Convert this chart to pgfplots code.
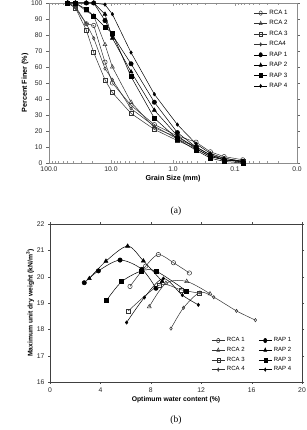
\documentclass[border=0pt]{standalone}
\usepackage{pgfplots}
\pgfplotsset{compat=1.18}
\usepackage{pgfplotstable}
\usepackage{fontspec}
\setmainfont{Liberation Sans}
\newfontfamily\seriffont{Liberation Serif}

\pgfplotstableread{
d     rcaa rcab rcac rcad rapa rapb rapc rapd
50    100  100  100  100  100  100  100  100
37.5  98   100  97   97   100  100  100  100
25    87   95   83   87   100  100  96   100
19    86   92   69   78   100  100  92   100
12.5  63   74   52   59   89   93   85   99
9.5   50   60   44   52   80   78   81   93
4.75  36   38   31   34   62   57   54   69
2.0   24   22   21   23   38   33   28   43
0.85  17   16   14   15   19   17   15   24
0.425 13   10   9    10   10   9    8    12
0.25  7    5    4    5    5    4    3    6
0.15  4    2    2    3    2    2    1    3
0.075 2    1    1    1    1    0.5  0    1
}\grading

\pgfplotstableread{
w     g
6.35  19.63
7.59  20.40
8.60  20.84
9.80  20.53
11.06 20.14
}\rcaA
\pgfplotstableread{
w     g
7.88  18.86
9.20  19.75
10.85 19.82
12.70 19.35
}\rcaB
\pgfplotstableread{
w     g
6.22  18.70
8.70  19.68
10.40 19.50
11.85 19.37
}\rcaC
\pgfplotstableread{
w     g
9.60  18.03
10.60 18.82
11.90 19.40
13.00 19.22
14.80 18.70
16.30 18.35
}\rcaD
\pgfplotstableread{
w     g
2.72  19.77
3.84  20.22
5.56  20.63
7.30  20.28
8.41  19.56
}\rapA
\pgfplotstableread{
w     g
3.12  19.93
4.44  20.59
6.16  21.16
7.41  20.60
8.90  19.82
}\rapB
\pgfplotstableread{
w     g
4.50  19.11
5.69  19.81
7.27  20.22
8.46  20.20
10.85 19.45
}\rapC
\pgfplotstableread{
w     g
6.08  18.26
7.49  19.21
9.00  19.93
10.50 19.30
11.77 18.93
}\rapD

\pgfplotsset{
  sRCAa/.style={black!80, line width=0.5pt, mark=o, mark size=2.2pt, mark options={fill=white, solid}},
  sRCAb/.style={black!80, line width=0.5pt, mark=triangle, mark size=2.3pt, mark options={fill=white, solid}},
  sRCAc/.style={black!80, line width=0.5pt, mark=square, mark size=2pt, mark options={fill=white, solid}},
  sRCAd/.style={black!80, line width=0.5pt, mark=diamond, mark size=1.7pt, mark options={fill=white, solid}},
  sRAPa/.style={black, line width=0.5pt, mark=*, mark size=2.2pt, mark options={fill=black, solid}},
  sRAPb/.style={black, line width=0.5pt, mark=triangle*, mark size=2.3pt, mark options={fill=black, solid}},
  sRAPc/.style={black, line width=0.5pt, mark=square*, mark size=2pt, mark options={fill=black, solid}},
  sRAPd/.style={black, line width=0.5pt, mark=diamond*, mark size=1.7pt, mark options={fill=black, solid}},
}

\begin{document}
\begin{tikzpicture}
\useasboundingbox (0pt,0pt) rectangle (307pt,430pt);
% ---------- (a) ----------
\begin{axis}[
  at={(49pt,267pt)}, anchor=south west,
  scale only axis, width=248pt, height=160pt,
  xmode=log, x dir=reverse,
  xmin=0.01, xmax=100, ymin=0, ymax=100,
  xtick={100,10,1,0.1,0.01},
  xticklabels={100.0,10.0,1.0,0.1,0.0},
  minor xtick={0.02,0.03,0.04,0.05,0.06,0.07,0.08,0.09,
               0.2,0.3,0.4,0.5,0.6,0.7,0.8,0.9,
               2,3,4,5,6,7,8,9,20,30,40,50,60,70,80,90},
  ytick={0,10,...,100},
  axis line style={black!45, line width=0.5pt},
  x tick style={black!40, line width=0.4pt},
  xtick align=inside,
  major tick length=3pt, minor tick length=2pt,
  ytick align=outside,
  y tick style={black!60},
  tick label style={font=\fontsize{6.8}{7}\selectfont, black!85},
  /pgf/number format/assume math mode=true,
  xlabel={\bfseries Grain Size (mm)},
  ylabel={\bfseries Percent Finer (\%)},
  label style={font=\fontsize{7.2}{8}\selectfont},
  xlabel style={yshift=3pt},
  ylabel style={yshift=-4pt},
  legend style={at={(0.975,0.975)}, anchor=north east, draw=none, fill=none,
    font=\fontsize{6.2}{6.6}\selectfont, row sep=0.6pt, inner sep=1pt},
  legend cell align=left,
  legend image post style={xscale=0.75},
  clip=false,
]
\addplot[sRCAa] table[x=d, y=rcaa] {\grading}; \addlegendentry{RCA 1}
\addplot[sRCAb] table[x=d, y=rcab] {\grading}; \addlegendentry{RCA 2}
\addplot[sRCAc] table[x=d, y=rcac] {\grading}; \addlegendentry{RCA 3}
\addplot[sRCAd] table[x=d, y=rcad] {\grading}; \addlegendentry{RCA4}
\addplot[sRAPa] table[x=d, y=rapa] {\grading}; \addlegendentry{RAP 1}
\addplot[sRAPb] table[x=d, y=rapb] {\grading}; \addlegendentry{RAP 2}
\addplot[sRAPc] table[x=d, y=rapc] {\grading}; \addlegendentry{RAP 3}
\addplot[sRAPd] table[x=d, y=rapd] {\grading}; \addlegendentry{RAP 4}
\end{axis}
\node[font=\seriffont\fontsize{9.5}{10}\selectfont] at (176pt,219pt) {(a)};
% ---------- (b) ----------
\begin{axis}[
  at={(50pt,48pt)}, anchor=south west,
  scale only axis, width=252pt, height=158pt,
  xmin=0, xmax=20, ymin=16, ymax=22,
  xtick={0,4,...,20}, ytick={16,...,22},
  axis line style={black!75, line width=0.6pt},
  tick style={black!70}, tick align=outside,
  major tick length=2pt,
  tick label style={font=\fontsize{6.8}{7}\selectfont, black!85},
  /pgf/number format/assume math mode=true,
  xlabel={\bfseries Optimum water content (\%)},
  ylabel={\bfseries Maximum unit dry weight (kN/m\textsuperscript{3})},
  label style={font=\fontsize{6.8}{7.5}\selectfont},
  xlabel style={yshift=3pt},
  ylabel style={yshift=-4pt},
  legend columns=2,
  legend style={at={(0.97,0.04)}, anchor=south east, draw=none, fill=none,
    font=\fontsize{6}{6.3}\selectfont, row sep=0pt, inner sep=1pt,
    /tikz/every even column/.append style={column sep=12pt}},
  legend cell align=left,
  legend image post style={xscale=0.75},
]
\addplot[sRCAa, smooth, tension=0.5] table[x=w, y=g] {\rcaA}; \addlegendentry{RCA 1}
\addplot[sRAPa, smooth, tension=0.5] table[x=w, y=g] {\rapA}; \addlegendentry{RAP 1}
\addplot[sRCAb, smooth, tension=0.5] table[x=w, y=g] {\rcaB}; \addlegendentry{RCA 2}
\addplot[sRAPb, smooth, tension=0.5] table[x=w, y=g] {\rapB}; \addlegendentry{RAP 2}
\addplot[sRCAc, smooth, tension=0.5] table[x=w, y=g] {\rcaC}; \addlegendentry{RCA 3}
\addplot[sRAPc, smooth, tension=0.5] table[x=w, y=g] {\rapC}; \addlegendentry{RAP 3}
\addplot[sRCAd, smooth, tension=0.5] table[x=w, y=g] {\rcaD}; \addlegendentry{RCA 4}
\addplot[sRAPd, smooth, tension=0.5] table[x=w, y=g] {\rapD}; \addlegendentry{RAP 4}
\end{axis}
\node[font=\seriffont\fontsize{9.5}{10}\selectfont] at (176pt,10pt) {(b)};
\end{tikzpicture}
\end{document}
